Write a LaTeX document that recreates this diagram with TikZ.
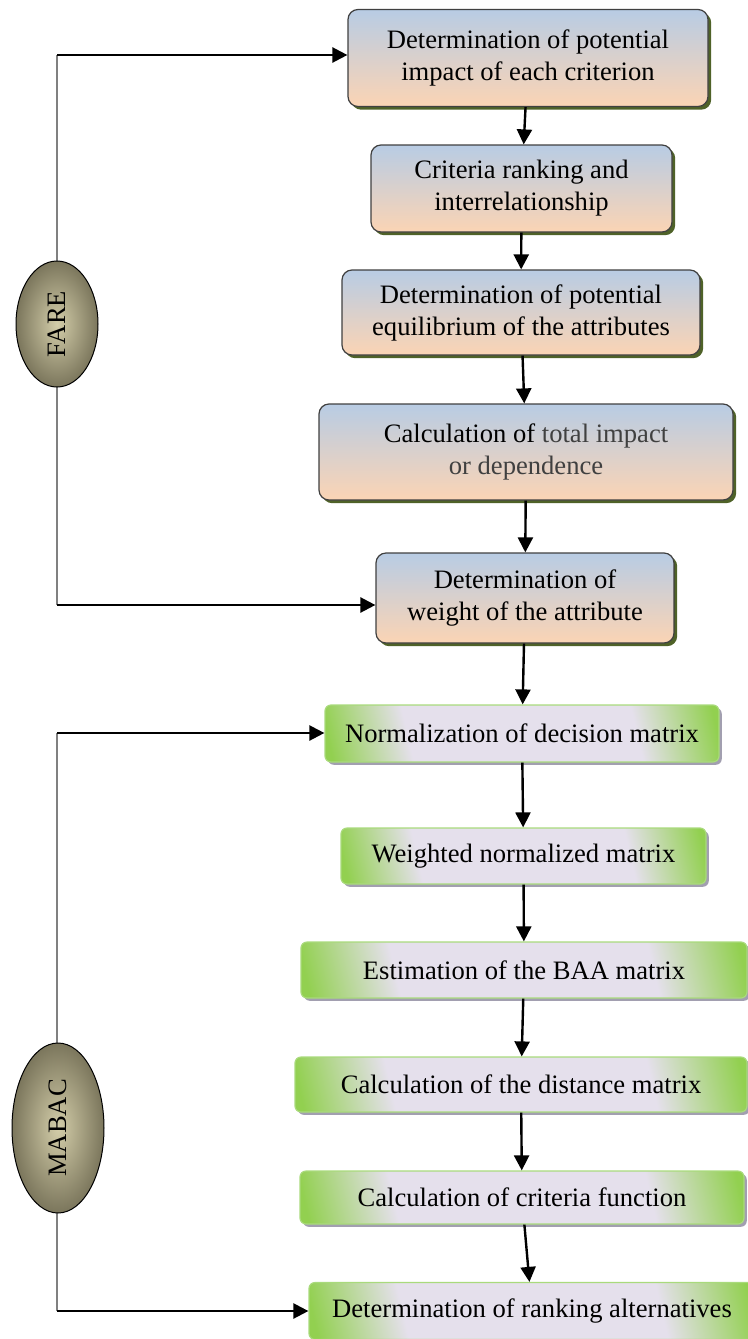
\documentclass[tikz,border=0pt]{standalone}
\usepackage{fontspec}
\setmainfont{Liberation Serif}
\usepackage{xcolor}
\usetikzlibrary{positioning, arrows.meta, shapes.geometric, shadows}

\definecolor{stepTop}{HTML}{B8CCE4}
\definecolor{stepBot}{HTML}{FBD4B4}
\definecolor{stepShadow}{HTML}{4F6228}
\definecolor{mabacGreen}{HTML}{92D050}
\definecolor{mabacLav}{HTML}{E5E0EC}
\definecolor{mabacEdge}{HTML}{A9DA7C}
\definecolor{mabacShadow}{HTML}{A29FB0}
\definecolor{ovalIn}{HTML}{D3CDA9}
\definecolor{ovalOut}{HTML}{7B765C}
\pgfdeclarehorizontalshading{mabacband}{100bp}{color(0bp)=(mabacGreen); color(21bp)=(mabacGreen); color(33bp)=(mabacLav); color(67bp)=(mabacLav); color(79bp)=(mabacGreen); color(100bp)=(mabacGreen)}
\newcommand{\boxfont}{\fontsize{13.3}{16}\selectfont}

\begin{document}
\begin{tikzpicture}[x=0.5pt, y=-0.5pt,
    stepbox/.style={rectangle, draw=black!75, line width=0.6pt, rounded corners=5pt, align=center, font=\boxfont, top color=stepTop, bottom color=stepBot, drop shadow={shadow xshift=1.6pt, shadow yshift=-1.6pt, fill=stepShadow, opacity=1}},
    mabacbox/.style={rectangle, draw=mabacEdge, line width=0.6pt, rounded corners=3pt, align=center, font=\boxfont, shading=mabacband, shading angle=13, minimum height=28pt, drop shadow={shadow xshift=1.4pt, shadow yshift=-1.4pt, fill=mabacShadow, opacity=1}},
    oval/.style={ellipse, draw=black, line width=0.5pt, inner color=ovalIn, outer color=ovalOut, inner sep=0pt, rotate=90, font=\boxfont},
    guide/.style={draw=gray, line width=0.8pt},
    arrow/.style={-{Triangle[length=7.5pt, width=7.5pt]}, line width=1.2pt}
]
\useasboundingbox (0,0) rectangle (748,1339);

% FARE part
\coordinate (fareTop) at (57,55);
\coordinate (fareBot) at (57,605);
\draw[guide] (fareTop) -- (fareBot);
\node[oval, minimum width=63pt, minimum height=41pt] (fare) at (57,324) {FARE};

\node[stepbox, minimum width=180pt, minimum height=48.5pt] (b1) at (528,58) {Determination of potential\\impact of each criterion};
\node[stepbox, minimum width=150.5pt, minimum height=43.5pt] (b2) at (521.5,188.5) {Criteria ranking and\\interrelationship};
\node[stepbox, minimum width=179pt, minimum height=42.5pt] (b3) at (521,312.5) {Determination of potential\\equilibrium of the attributes};
\node[stepbox, minimum width=207pt, minimum height=48pt] (b4) at (526,452) {Calculation of \textcolor{black!75}{total impact}\\\textcolor{black!75}{or dependence}};
\node[stepbox, minimum width=149pt, minimum height=45pt] (b5) at (525,598) {Determination of\\weight of the attribute};

% MABAC part
\coordinate (mabacTop) at (57,733);
\coordinate (mabacBot) at (57,1311);
\draw[guide] (mabacTop) -- (mabacBot);
\node[oval, minimum width=85pt, minimum height=46pt] (mabac) at (58,1128) {MABAC};

\node[mabacbox, minimum width=197pt, minimum height=28.5pt] (g1) at (522,733.5) {Normalization of decision matrix};
\node[mabacbox, minimum width=182.5pt] (g2) at (523.5,856) {Weighted normalized matrix};
\node[mabacbox, minimum width=223pt] (g3) at (524,970) {Estimation of the BAA matrix};
\node[mabacbox, minimum width=226pt, minimum height=27.5pt] (g4) at (521,1084.5) {Calculation of the distance matrix};
\node[mabacbox, minimum width=222pt, minimum height=26.5pt] (g5) at (522,1197.5) {Calculation of criteria function};
\node[mabacbox, minimum width=223pt, minimum height=28.5pt] (g6) at (532,1311) {Determination of ranking alternatives};

% connectors
\draw[arrow] (fareTop) -- (fareTop -| b1.west);
\draw[arrow] (fareBot) -- (fareBot -| b5.west);
\draw[arrow] (mabacTop) -- (mabacTop -| g1.west);
\draw[arrow] (mabacBot) -- (mabacBot -| g6.west);

\draw[arrow] (b1) -- (b2);
\draw[arrow] (b2) -- (b3);
\draw[arrow] (b3) -- (b4);
\draw[arrow] (b4) -- (b5);
\draw[arrow] (b5) -- (g1);
\draw[arrow] (g1) -- (g2);
\draw[arrow] (g2) -- (g3);
\draw[arrow] (g3) -- (g4);
\draw[arrow] (g4) -- (g5);
\draw[arrow] (g5) -- (g6);

\end{tikzpicture}
\end{document}
